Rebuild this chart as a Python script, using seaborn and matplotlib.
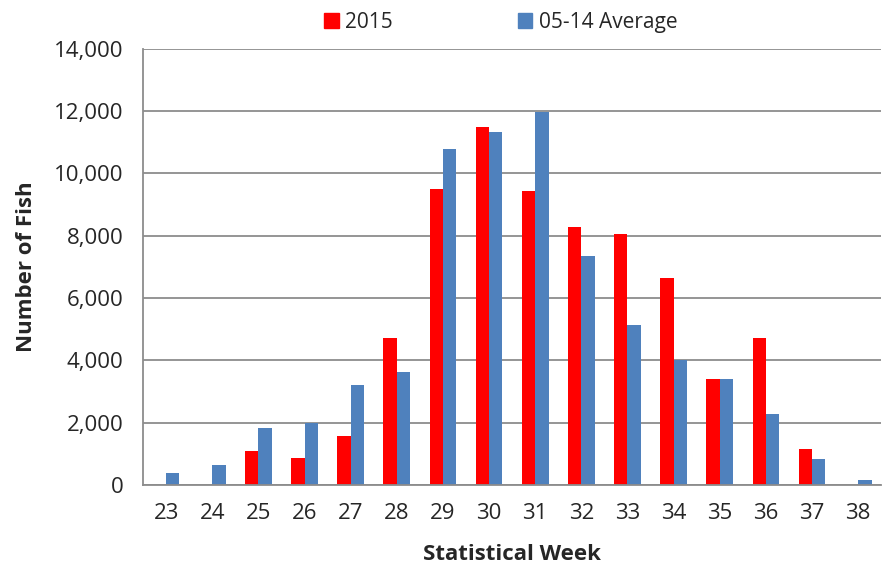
import matplotlib
matplotlib.use("Agg")
import matplotlib.pyplot as plt
import numpy as np
import pandas as pd
import seaborn as sns
from matplotlib.ticker import FuncFormatter, FixedLocator

sns.set_style("white")
plt.rcParams["font.family"] = ["Open Sans", "DejaVu Sans"]

# ==============================
# Dados
# ==============================

semanas = [23, 24, 25, 26, 27, 28, 29, 30, 31, 32, 33, 34, 35, 36, 37, 38]
ano_2015 = [0, 0, 1100, 870, 1570, 4720, 9510, 11490, 9450, 8270, 8065, 6650, 3400, 4710, 1170, 0]
media_05_14 = [400, 650, 1830, 2000, 3210, 3620, 10780, 11330, 11960, 7350, 5120, 4000, 3400, 2280, 835, 160]

df = pd.DataFrame({
    "semana": [str(s) for s in semanas] * 2,
    "peixes": ano_2015 + media_05_14,
    "serie": ["2015"] * len(semanas) + ["05-14 Average"] * len(semanas),
})

cores = {"2015": "#FF0000", "05-14 Average": "#4F81BD"}

# ==============================
# Grafico
# ==============================

fig = plt.figure(figsize=(8.83, 5.74), dpi=100)
ax = fig.add_axes([0.162, 0.155, 0.836, 0.76])

sns.barplot(data=df, x="semana", y="peixes", hue="serie", palette=cores,
            width=0.58, gap=0, ax=ax, legend=False, saturation=1,
            edgecolor="none")

ax.set_ylim(0, 14000)
ax.set_xlim(-0.5, len(semanas) - 0.5)
ax.set_yticks(np.arange(0, 14001, 2000))
ax.yaxis.set_major_formatter(FuncFormatter(lambda v, p: f"{int(v):,}"))
ax.grid(axis="y", color="#8c8c8c", linewidth=1.3)
ax.set_axisbelow(True)

for lado in ["top", "right"]:
    ax.spines[lado].set_visible(False)
for lado in ["left", "bottom"]:
    ax.spines[lado].set_color("#8c8c8c")
    ax.spines[lado].set_linewidth(1.3)

# marcas entre as categorias
ax.xaxis.set_minor_locator(FixedLocator(np.arange(-0.5, len(semanas), 1)))
ax.tick_params(axis="x", which="major", length=0, labelsize=16, pad=13)
ax.tick_params(axis="x", which="minor", length=6, width=1.3, color="#8c8c8c")
ax.tick_params(axis="y", length=6, width=1.3, color="#8c8c8c", labelsize=16, pad=8)

ax.set_xlabel("Statistical Week", fontsize=16, fontweight="bold", labelpad=14)
ax.set_ylabel("Number of Fish", fontsize=16, fontweight="bold", labelpad=12)

handles = [plt.Rectangle((0, 0), 1, 1, color=cores[k]) for k in cores]
fig.legend(handles, list(cores.keys()), loc="upper center",
           bbox_to_anchor=(0.567, 1.012), ncol=2, frameon=False,
           fontsize=15, handlelength=0.7, handleheight=0.7,
           handletextpad=0.3, columnspacing=6.0)

plt.savefig("out.png", dpi=100)
